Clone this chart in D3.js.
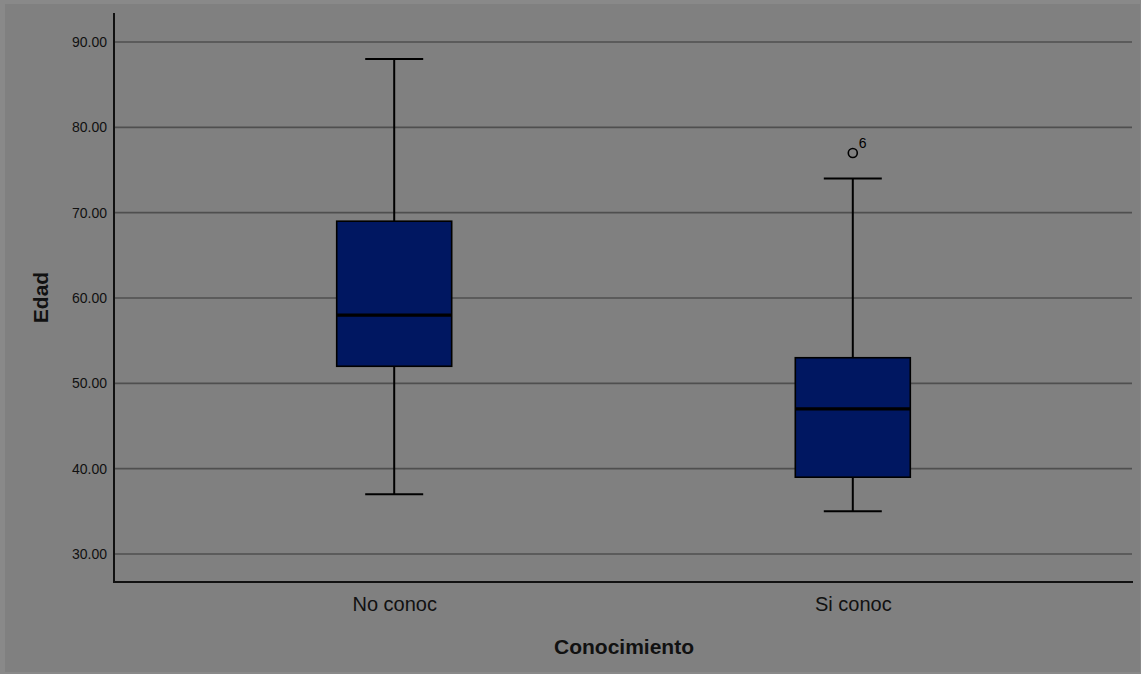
<!DOCTYPE html>
<html><head><meta charset="utf-8">
<script src="https://cdn.jsdelivr.net/npm/d3@7"></script>
<style>html,body{margin:0;padding:0;background:#898989;}svg{display:block;}</style>
</head><body>
<script>
const categories = ["No conoc", "Si conoc"];
const whiskerLow = [37, 35];
const q1 = [52, 39];
const median = [58, 47];
const q3 = [69, 53];
const whiskerHigh = [88, 74];
const outliers = [{cat: "Si conoc", value: 77, label: "6"}];
const yTicks = [30, 40, 50, 60, 70, 80, 90];
const yTitle = "Edad";
const xTitle = "Conocimiento";

(function () {
const W = 1141, H = 674;
const svg = d3.select("body").append("svg").attr("width", W).attr("height", H);
svg.append("rect").attr("x",5).attr("y",4).attr("width",1135).attr("height",668).attr("fill","#808080");

const pLeft = 114, pRight = 1133, pTop = 13, pBottom = 582;
const y = d3.scaleLinear().domain([30, 90]).range([554, 42]);
const x = d3.scalePoint().domain(categories).range([pLeft, pRight]).padding(0.611);

// gridlines
svg.append("g").selectAll("line").data(yTicks).join("line")
  .attr("x1", pLeft).attr("x2", 1132)
  .attr("y1", d => y(d)).attr("y2", d => y(d))
  .attr("stroke", "#4f4f4f").attr("stroke-width", 1.6);

// y axis
const yAxis = d3.axisLeft(y).tickValues(yTicks).tickFormat(d3.format(".2f")).tickSize(0).tickPadding(7);
const gy = svg.append("g").attr("transform", `translate(${pLeft},0)`).call(yAxis);
gy.select(".domain").remove();
gy.selectAll("text").attr("font-family", "Liberation Sans, Arial, sans-serif").attr("font-size", 14).attr("fill", "#111");
svg.append("line").attr("x1", pLeft).attr("x2", pLeft).attr("y1", pTop).attr("y2", pBottom+1)
  .attr("stroke", "#111").attr("stroke-width", 2);

// x axis
const xAxis = d3.axisBottom(x).tickSize(0).tickPadding(15);
const gx = svg.append("g").attr("transform", `translate(0,${pBottom})`).call(xAxis);
gx.select(".domain").remove();
gx.selectAll("text").attr("font-family", "Liberation Sans, Arial, sans-serif").attr("font-size", 20).attr("fill", "#111");
svg.append("line").attr("x1", pLeft).attr("x2", pRight).attr("y1", pBottom).attr("y2", pBottom)
  .attr("stroke", "#111").attr("stroke-width", 2);

// boxes
const boxW = 115, capW = 58;
const g = svg.append("g");
categories.forEach((c, i) => {
  const cx = x(c);
  g.append("line").attr("x1", cx).attr("x2", cx).attr("y1", y(whiskerHigh[i])).attr("y2", y(q3[i]))
    .attr("stroke", "#000").attr("stroke-width", 2);
  g.append("line").attr("x1", cx).attr("x2", cx).attr("y1", y(q1[i])).attr("y2", y(whiskerLow[i]))
    .attr("stroke", "#000").attr("stroke-width", 2);
  g.append("line").attr("x1", cx - capW/2).attr("x2", cx + capW/2).attr("y1", y(whiskerHigh[i])).attr("y2", y(whiskerHigh[i]))
    .attr("stroke", "#000").attr("stroke-width", 2);
  g.append("line").attr("x1", cx - capW/2).attr("x2", cx + capW/2).attr("y1", y(whiskerLow[i])).attr("y2", y(whiskerLow[i]))
    .attr("stroke", "#000").attr("stroke-width", 2);
  g.append("rect").attr("x", cx - boxW/2).attr("y", y(q3[i])).attr("width", boxW).attr("height", y(q1[i]) - y(q3[i]))
    .attr("fill", "#001761").attr("stroke", "#000").attr("stroke-width", 1.6);
  g.append("line").attr("x1", cx - boxW/2).attr("x2", cx + boxW/2).attr("y1", y(median[i])).attr("y2", y(median[i]))
    .attr("stroke", "#000").attr("stroke-width", 3.2);
});
outliers.forEach(o => {
  g.append("circle").attr("cx", x(o.cat)).attr("cy", y(o.value)).attr("r", 4.5)
    .attr("fill", "none").attr("stroke", "#000").attr("stroke-width", 1.6);
  g.append("text").attr("x", x(o.cat) + 6).attr("y", y(o.value) - 5).text(o.label)
    .attr("font-family", "Liberation Sans, Arial, sans-serif").attr("font-size", 14).attr("fill", "#000");
});

// titles
svg.append("text").attr("transform", "translate(48,297.5) rotate(-90)").attr("text-anchor", "middle")
  .attr("font-family", "Liberation Sans, Arial, sans-serif").attr("font-weight", "bold").attr("font-size", 21).attr("fill", "#111")
  .text(yTitle);
svg.append("text").attr("x", 624).attr("y", 654).attr("text-anchor", "middle")
  .attr("font-family", "Liberation Sans, Arial, sans-serif").attr("font-weight", "bold").attr("font-size", 21).attr("fill", "#111")
  .text(xTitle);
})();
</script>
</body></html>
